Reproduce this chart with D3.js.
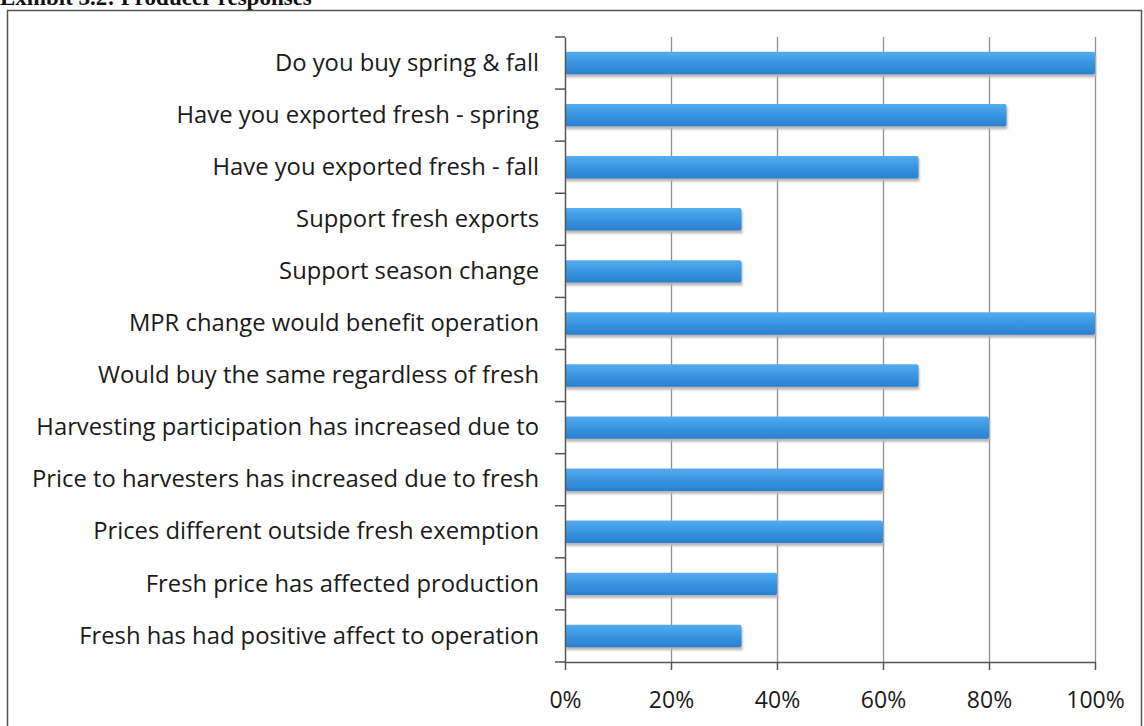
<!DOCTYPE html>
<html>
<head>
<meta charset="utf-8">
<script src="https://cdn.jsdelivr.net/npm/d3@7"></script>
<style>
  html, body { margin: 0; padding: 0; background: #fff; }
  svg { display: block; }
</style>
</head>
<body>
<svg id="chart" width="1144" height="726"></svg>
<script>
// Survey questions, top to bottom
const categories = [
  "Do you buy spring & fall",
  "Have you exported fresh - spring",
  "Have you exported fresh - fall",
  "Support fresh exports",
  "Support season change",
  "MPR change would benefit operation",
  "Would buy the same regardless of fresh",
  "Harvesting participation has increased due to",
  "Price to harvesters has increased due to fresh",
  "Prices different outside fresh exemption",
  "Fresh price has affected production ",
  "Fresh has had positive affect to operation"
];
// Share of producers answering yes
const values = [1.0, 0.833, 0.667, 0.333, 0.333, 1.0, 0.667, 0.80, 0.60, 0.60, 0.40, 0.333];
const xTicks = [0, 0.2, 0.4, 0.6, 0.8, 1.0];
const title = "Exhibit 3.2: Producer responses";

const svg = d3.select("#chart");
const margin = { left: 565, right: 49, top: 37, bottom: 64 };
const W = 1144, H = 726;

const x = d3.scaleLinear().domain([0, 1]).range([margin.left, W - margin.right]);
const y = d3.scaleBand().domain(categories).range([margin.top, H - margin.bottom]).paddingInner(0.57).paddingOuter(0.285);

// Bar fill gradient
const defs = svg.append("defs");
const grad = defs.append("linearGradient").attr("id", "barFill").attr("x1", 0).attr("y1", 0).attr("x2", 0).attr("y2", 1);
grad.append("stop").attr("offset", "0%").attr("stop-color", "#56acee");
grad.append("stop").attr("offset", "45%").attr("stop-color", "#3b97e1");
grad.append("stop").attr("offset", "100%").attr("stop-color", "#2a80d0");
defs.append("filter").attr("id", "soft").append("feGaussianBlur").attr("stdDeviation", 1.2);

// Title (sits at the very top of the page)
svg.append("text")
  .attr("x", 0).attr("y", 5)
  .attr("font-family", "Liberation Serif, Times New Roman, serif")
  .attr("font-weight", "bold")
  .attr("font-size", 23)
  .attr("fill", "#111")
  .text(title);

// Outer frame
svg.append("path")
  .attr("d", `M7.5,${H + 2} V10.5 H1141.5 V${H + 2}`)
  .attr("fill", "none").attr("stroke", "#555").attr("stroke-width", 1.5);

// Vertical gridlines
svg.append("g")
  .selectAll("line")
  .data(xTicks.slice(1))
  .join("line")
  .attr("x1", d => Math.round(x(d)) + 0.5).attr("x2", d => Math.round(x(d)) + 0.5)
  .attr("y1", margin.top).attr("y2", H - margin.bottom)
  .attr("stroke", "#8f8f8f").attr("stroke-width", 1.3);

// Bar shadows
svg.append("g")
  .selectAll("rect")
  .data(values)
  .join("rect")
  .attr("x", x(0) + 1)
  .attr("y", (d, i) => y(categories[i]) + 3)
  .attr("width", d => x(d) - x(0))
  .attr("height", y.bandwidth())
  .attr("fill", "#b8b8b8")
  .attr("filter", "url(#soft)");

// Bars
svg.append("g")
  .selectAll("rect")
  .data(values)
  .join("rect")
  .attr("x", x(0))
  .attr("y", (d, i) => y(categories[i]))
  .attr("width", d => x(d) - x(0))
  .attr("height", y.bandwidth())
  .attr("rx", 2)
  .attr("fill", "url(#barFill)");

// Category axis
const yAxis = d3.axisLeft(y).tickSize(0).tickPadding(26);
const gy = svg.append("g").attr("transform", `translate(${x(0)},0)`).call(yAxis);
gy.select(".domain").attr("stroke", "#555").attr("stroke-width", 1.5);
gy.selectAll("text")
  .attr("font-family", "Open Sans, sans-serif")
  .attr("font-size", 23.8)
  .attr("fill", "#1a1a1a");

// Boundary ticks between categories
const bounds = categories.map(c => y(c) - y.step() * y.paddingInner() / 2);
bounds.push(H - margin.bottom);
svg.append("g")
  .selectAll("line")
  .data(bounds)
  .join("line")
  .attr("x1", x(0) - 10).attr("x2", x(0))
  .attr("y1", (d, i) => i === 0 ? margin.top : d)
  .attr("y2", (d, i) => i === 0 ? margin.top : d)
  .attr("stroke", "#555").attr("stroke-width", 1.5);

// Value axis
const xAxis = d3.axisBottom(x).tickValues(xTicks).tickFormat(d3.format(".0%")).tickSize(8).tickPadding(22).tickSizeOuter(0);
const gx = svg.append("g").attr("transform", `translate(0,${H - margin.bottom})`).call(xAxis);
gx.select(".domain").attr("stroke", "#555").attr("stroke-width", 1.5);
gx.selectAll(".tick line").attr("stroke", "#555").attr("stroke-width", 1.5);
gx.selectAll("text")
  .attr("font-family", "Open Sans, sans-serif")
  .attr("font-size", 23)
  .attr("fill", "#1a1a1a");
</script>
</body>
</html>
